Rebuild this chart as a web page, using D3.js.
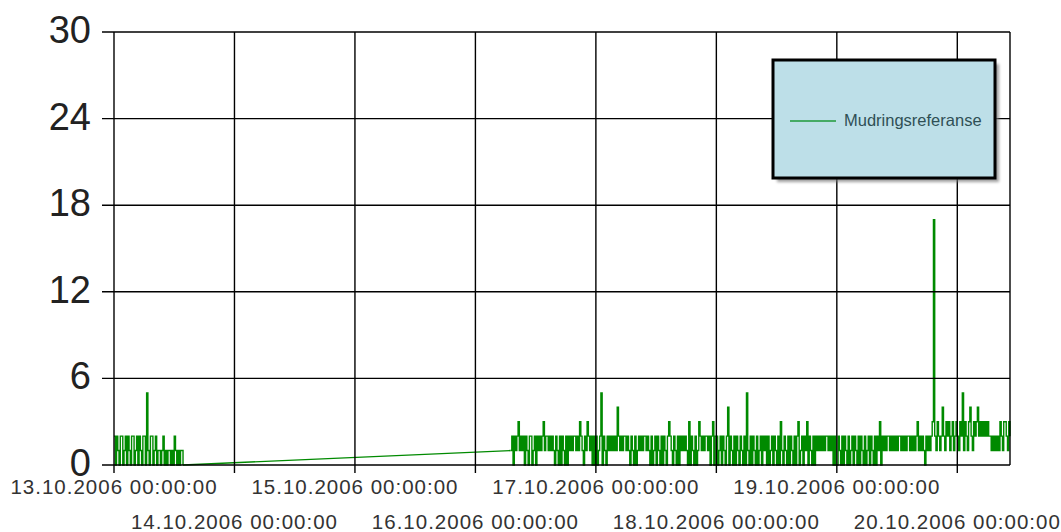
<!DOCTYPE html>
<html>
<head>
<meta charset="utf-8">
<script src="https://cdn.jsdelivr.net/npm/d3@7"></script>
<style>
  body { margin: 0; background: #fff; }
  svg { display: block; font-family: "Liberation Sans", Arial, sans-serif; }
</style>
</head>
<body>
<svg id="chart" width="1061" height="532"></svg>
<script>
// ---- data ----
const seriesName = "Mudringsreferanse";
const yTicks = [0, 6, 12, 18, 24, 30];
const tickDays = ["2006-10-13", "2006-10-14", "2006-10-15", "2006-10-16",
                  "2006-10-17", "2006-10-18", "2006-10-19", "2006-10-20"];
const tickLabels = ["13.10.2006 00:00:00", "14.10.2006 00:00:00", "15.10.2006 00:00:00",
                    "16.10.2006 00:00:00", "17.10.2006 00:00:00", "18.10.2006 00:00:00",
                    "19.10.2006 00:00:00", "20.10.2006 00:00:00"];

// readings every 15 minutes
const run1Start = "2006-10-13T00:00:00Z";
const day13Values = [2,0,2,1,0,2,2,0,1,2,0,2, 1,0,2,2,0,1,2,0,2,1,0,2,
                     2,0,5,1,0,2,2,0,1,2, 0,1,1,0,1,2,0,1,0,1,1,0,
                     1,0,2,1,0,1,0,1,1,0];

const run2Start = "2006-10-16T07:00:00Z";
const day16Values = [1,2,0,2,1, 2,3,1,2,1, 2,0,2,1,0,2,2,0,1,2,0,2,
                     1,2,1,2,3,1,2,2,1,2,1,2,1, 0,2,1,0,2,0,2,1,0,2,0,
                     2,1,2,1,2,2,1,2,1,3,2,1, 0,2,1,3,2,1,2, 0,2,0];
const day17Values = [2,0,1,2,5,0,2,1,0, 2,1,2,1,2,1,2,1,4,2,1,2,1,2,2,1,2,1,
                     0,2,1,0,2,0,1,2, 1,2,1,2,2,1,2,1, 0,2,0,1,2,0,2,1,0,2,0,2,1,0,
                     2,3,2,1, 0,2,1,0,2,0,2,1, 2,1,2,1, 0,3,0,2,1,0,2,0,
                     1,3,2,1,2,1,2,2,1,2, 0,2,3,0,2];
const day18Values = [2,0,1,2,0,2,1,0,2,4,0,2, 1,0,2,0,2,1,0,2,1,0,2,0,
                     5,1,0,2,0,2,1,0,2,0,1,2, 0,2,1,2,0,2,0,1,2,0,2,1,
                     0,2,0,3,1,0,2,1,0,2,0,2, 1,0,2,0,2,3,0,1,2,0,2,1,
                     3,0,2,1,0,2,0,2,1,2,1,2, 1,2,1,2,2,1,2,1,2,0,2,0];
const day19Values = [0,2,1,0,2,0,2,1,0,2,0,1, 2,0,2,1,0,2,0,2,1,0,2,0,
                     1,2,0,2,1,0,2,0,2,1,3,0, 2,1,2,1,2,2,1,2,1,2,1,2,
                     1,2,2,1,2,1,2,1,2,2,1,2, 1,2,1,2,3,1,2,1,2,1,0,2,
                     1,2,1,2,3,17,2,1,3,2,1,2, 4,2,1,3,2,3,1,2,3,1,2,3];
const day20Values = [2,1,3,2,5,1,3,2,1,3, 4,2,1,3,2,3,4,2,3,2,
                     3,2,3,2,3,2,2,1,2,1, 2,1,2,1,3,2,1,3,3,2,1,3,2];

// ---- build points ----
const step = 15 * 60 * 1000;
function toPoints(start, values) {
    let t0 = new Date(start).getTime();
    return values.map((v, i) => ({date: new Date(t0 + i * step), value: v}));
}
let run2Values = day16Values.concat(day17Values, day18Values, day19Values, day20Values);
let run1 = toPoints(run1Start, day13Values);
let run2 = toPoints(run2Start, run2Values);
let points = run1.concat(run2);

// ---- layout ----
let svg = d3.select("#chart");
let plotLeft = 114, plotRight = 1010, plotTop = 32, plotBottom = 465;

let x = d3.scaleUtc()
    .domain(d3.extent(points, d => d.date))
    .range([plotLeft, plotRight]);
let y = d3.scaleLinear()
    .domain([0, 30])
    .range([plotBottom, plotTop]);

// data: stepped runs, joined by a straight line over the missing days
let stepLine = d3.line()
    .x(d => x(d.date))
    .y(d => y(d.value))
    .curve(d3.curveStepAfter);
let straight = d3.line()
    .x(d => x(d.date))
    .y(d => y(d.value));
let series = svg.append("g")
    .attr("fill", "none")
    .attr("stroke", "#008a00")
    .attr("stroke-width", 1.4);
series.append("path").attr("d", stepLine(run1));
series.append("path").attr("d", stepLine(run2));
series.append("path").attr("d", straight([run1[run1.length - 1], run2[0]]));

// horizontal grid + y ticks
let grid = svg.append("g").attr("stroke", "#000").attr("stroke-width", 1.4);
grid.selectAll(".hgrid")
    .data(yTicks)
    .enter().append("line")
    .attr("x1", plotLeft - 12).attr("x2", plotRight)
    .attr("y1", d => y(d)).attr("y2", d => y(d));

// vertical grid + x ticks
let days = tickDays.map(d => new Date(d + "T00:00:00Z"));
grid.selectAll(".vgrid")
    .data(days)
    .enter().append("line")
    .attr("x1", d => x(d)).attr("x2", d => x(d))
    .attr("y1", plotTop).attr("y2", plotBottom + 8);
grid.append("line")
    .attr("x1", plotRight).attr("x2", plotRight)
    .attr("y1", plotTop).attr("y2", plotBottom);

// y labels
svg.selectAll(".ylab")
    .data(yTicks)
    .enter().append("text")
    .attr("x", 91)
    .attr("y", d => y(d) + 11)
    .attr("text-anchor", "end")
    .attr("font-size", 38)
    .attr("fill", "#222")
    .text(d => d);

// x labels, alternating rows
svg.selectAll(".xlab")
    .data(days)
    .enter().append("text")
    .attr("x", d => x(d))
    .attr("y", (d, i) => i % 2 === 0 ? 494 : 529)
    .attr("text-anchor", "middle")
    .attr("font-size", 20.5)
    .attr("letter-spacing", 1)
    .attr("fill", "#333")
    .text((d, i) => tickLabels[i]);

// legend
let defs = svg.append("defs");
defs.append("filter").attr("id", "shadow")
    .append("feGaussianBlur").attr("stdDeviation", 1.5);
let legend = svg.append("g");
legend.append("rect")
    .attr("x", 777).attr("y", 64).attr("width", 222).attr("height", 118)
    .attr("fill", "#777").attr("opacity", 0.7)
    .attr("filter", "url(#shadow)");
legend.append("rect")
    .attr("x", 773).attr("y", 60).attr("width", 222).attr("height", 118)
    .attr("fill", "#bddfe8")
    .attr("stroke", "#000").attr("stroke-width", 3);
legend.append("line")
    .attr("x1", 790).attr("x2", 836)
    .attr("y1", 121).attr("y2", 121)
    .attr("stroke", "#1f9a3a").attr("stroke-width", 1.3);
legend.append("text")
    .attr("x", 844).attr("y", 126)
    .attr("font-size", 16.5)
    .attr("fill", "#2f4f55")
    .text(seriesName);
</script>
</body>
</html>
